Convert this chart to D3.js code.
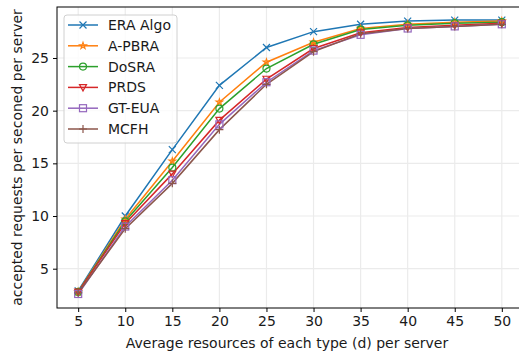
<!doctype html>
<html lang="en">
<head>
<meta charset="utf-8">
<script src="https://d3js.org/d3.v7.min.js"></script>
<style>
  body { margin: 0; background: #fff; }
  text { font-family: "DejaVu Sans", sans-serif; fill: #1a1a1a; }
</style>
</head>
<body>
<div id="chart"></div>
<script>
// data
var xs = [5, 10, 15, 20, 25, 30, 35, 40, 45, 50];
var eraAlgo = [2.9, 10.0, 16.3, 22.4, 26.0, 27.5, 28.2, 28.5, 28.6, 28.6];
var aPbra   = [2.8, 9.7, 15.2, 20.8, 24.6, 26.5, 27.8, 28.2, 28.4, 28.5];
var doSra   = [2.8, 9.5, 14.6, 20.2, 24.0, 26.3, 27.7, 28.1, 28.3, 28.4];
var prds    = [2.8, 9.3, 14.0, 19.1, 23.0, 25.9, 27.4, 27.9, 28.1, 28.3];
var gtEua   = [2.6, 9.0, 13.4, 18.7, 22.7, 25.7, 27.2, 27.8, 28.0, 28.2];
var mcfh    = [2.7, 8.8, 13.1, 18.2, 22.5, 25.6, 27.3, 27.8, 28.0, 28.2];
var names = ["ERA Algo", "A-PBRA", "DoSRA", "PRDS", "GT-EUA", "MCFH"];
var yTicks = [5, 10, 15, 20, 25];

var series = [eraAlgo, aPbra, doSra, prds, gtEua, mcfh];
var colors = ["#1f77b4", "#ff7f0e", "#2ca02c", "#d62728", "#9467bd", "#8c564b"];
var markers = ["x", "star", "circle", "tri", "square", "plus"];

var W = 519, H = 355;
var margin = {top: 7, right: -4, bottom: 47, left: 57};

var svg = d3.select("#chart").append("svg")
  .attr("width", W).attr("height", H);

var x = d3.scaleLinear().domain([2.75, 52.25]).range([margin.left, W - margin.right]);
var y = d3.scaleLinear().domain([1.27, 29.84]).range([H - margin.bottom, margin.top]);

var g = svg.append("g");

// grid
g.selectAll(".gx").data(xs).enter().append("line")
  .attr("x1", d => x(d)).attr("x2", d => x(d))
  .attr("y1", y.range()[0]).attr("y2", y.range()[1])
  .attr("stroke", "#ebebeb").attr("stroke-width", 1.2);
g.selectAll(".gy").data(yTicks).enter().append("line")
  .attr("y1", d => y(d)).attr("y2", d => y(d))
  .attr("x1", x.range()[0]).attr("x2", x.range()[1])
  .attr("stroke", "#ebebeb").attr("stroke-width", 1.2);

// lines
var line = d3.line().x((d, i) => x(xs[i])).y(d => y(d));
series.forEach(function(s, k) {
  g.append("path").datum(s)
    .attr("d", line)
    .attr("fill", "none")
    .attr("stroke", colors[k])
    .attr("stroke-width", 1.5);
});

function drawMarker(sel, type, color, cx, cy) {
  var r = 3.5;
  if (type == "x") {
    sel.append("path").attr("d", "M" + (cx - r) + "," + (cy - r) + "L" + (cx + r) + "," + (cy + r) +
      "M" + (cx - r) + "," + (cy + r) + "L" + (cx + r) + "," + (cy - r))
      .attr("stroke", color).attr("stroke-width", 1.2);
  } else if (type == "plus") {
    sel.append("path").attr("d", "M" + (cx - r - 0.5) + "," + cy + "L" + (cx + r + 0.5) + "," + cy +
      "M" + cx + "," + (cy - r - 0.5) + "L" + cx + "," + (cy + r + 0.5))
      .attr("stroke", color).attr("stroke-width", 1.2);
  } else if (type == "circle") {
    sel.append("circle").attr("cx", cx).attr("cy", cy).attr("r", r)
      .attr("fill", "none").attr("stroke", color).attr("stroke-width", 1.2);
  } else if (type == "square") {
    sel.append("rect").attr("x", cx - r).attr("y", cy - r).attr("width", 2 * r).attr("height", 2 * r)
      .attr("fill", "none").attr("stroke", color).attr("stroke-width", 1.2);
  } else if (type == "tri") {
    sel.append("path").attr("d", "M" + (cx - r) + "," + (cy - r * 0.8) + "L" + (cx + r) + "," + (cy - r * 0.8) +
      "L" + cx + "," + (cy + r) + "Z")
      .attr("fill", "none").attr("stroke", color).attr("stroke-width", 1.2);
  } else if (type == "star") {
    sel.append("path")
      .attr("d", d3.symbol().type(d3.symbolStar).size(14)())
      .attr("transform", "translate(" + cx + "," + cy + ")")
      .attr("fill", "none").attr("stroke", color).attr("stroke-width", 1.1);
  }
}

series.forEach(function(s, k) {
  var mg = g.append("g");
  s.forEach(function(v, i) { drawMarker(mg, markers[k], colors[k], x(xs[i]), y(v)); });
});

// axes frame
svg.append("rect")
  .attr("x", margin.left).attr("y", margin.top)
  .attr("width", x.range()[1] - margin.left).attr("height", y.range()[0] - margin.top)
  .attr("fill", "none").attr("stroke", "#000").attr("stroke-width", 1);

var xAxis = svg.append("g")
  .attr("transform", "translate(0," + y.range()[0] + ")")
  .call(d3.axisBottom(x).tickValues(xs).tickSize(4).tickPadding(4));
var yAxis = svg.append("g")
  .attr("transform", "translate(" + margin.left + ",0)")
  .call(d3.axisLeft(y).tickValues(yTicks).tickSize(4).tickPadding(4));
[xAxis, yAxis].forEach(function(a) {
  a.select(".domain").remove();
  a.selectAll("text").style("font-size", "14px").style("font-family", "DejaVu Sans").attr("fill", "#1a1a1a");
});

svg.append("text")
  .attr("x", 287).attr("y", 348)
  .attr("text-anchor", "middle").style("font-size", "14px")
  .text("Average resources of each type (d) per server");
svg.append("text")
  .attr("transform", "translate(22," + (margin.top + y.range()[0]) / 2 + ") rotate(-90)")
  .attr("text-anchor", "middle").style("font-size", "14px")
  .text("accepted requests per seconed per server");

// legend
var lg = svg.append("g").attr("transform", "translate(64,15)");
lg.append("rect").attr("width", 113).attr("height", 128).attr("rx", 3)
  .attr("fill", "#fff").attr("fill-opacity", 0.8).attr("stroke", "#d0d0d0");
names.forEach(function(n, k) {
  var yy = 10 + k * 20.8;
  lg.append("line").attr("x1", 4).attr("x2", 34).attr("y1", yy).attr("y2", yy)
    .attr("stroke", colors[k]).attr("stroke-width", 1.5);
  drawMarker(lg, markers[k], colors[k], 19, yy);
  lg.append("text").attr("x", 44).attr("y", yy + 5).style("font-size", "14px").text(n);
});
</script>
</body>
</html>
